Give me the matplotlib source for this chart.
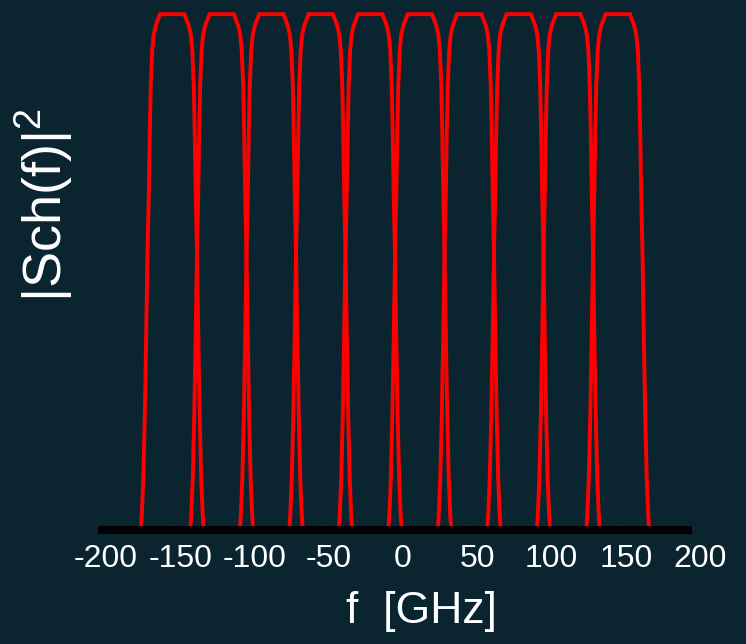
import numpy as np
import matplotlib
matplotlib.use("Agg")
from matplotlib import pyplot as plt
from matplotlib import transforms

plt.rcParams['font.family'] = ['Liberation Sans', 'DejaVu Sans']
plt.rcParams['mathtext.fontset'] = 'custom'
plt.rcParams['mathtext.rm'] = 'Liberation Sans'
plt.rcParams['mathtext.it'] = 'Liberation Sans:italic'

# channel centre frequencies [GHz]
centres = [-150.0, -116.7, -83.3, -50.0, -16.7, 16.7, 50.0, 83.3, 116.7, 150.0]

# one channel's spectrum edge (offset from centre in GHz, normalised power)
edge_offset = [0.0, 8.2, 11.1, 12.5, 13.5, 14.5, 15.2, 15.8, 16.7, 17.6, 18.5, 19.5, 20.5, 21.2]
edge_power = [1.0, 1.0, 0.978, 0.96, 0.93, 0.86, 0.76, 0.65, 0.53, 0.37, 0.22, 0.10, 0.03, 0.0]

xticks = [-200, -150, -100, -50, 0, 50, 100, 150, 200]

bg = '#0a2530'

fig = plt.figure(figsize=(7.46, 6.44), dpi=100, facecolor=bg)
ax = fig.add_axes([98 / 746, 0.177, 594 / 746, 0.817])
ax.set_facecolor(bg)

off = np.array(edge_offset)
pw = np.array(edge_power)
shape_f = np.concatenate([-off[::-1], off[1:]])
shape_p = np.concatenate([pw[::-1], pw[1:]])

for c in centres:
    ax.plot(c + shape_f, shape_p, color='#ff0000', lw=2.8, solid_joinstyle='miter')

ax.set_xlim(-200, 200)
ax.set_ylim(0, 1.02)

for side in ['top', 'right', 'left']:
    ax.spines[side].set_visible(False)
ax.spines['bottom'].set_color('black')
ax.spines['bottom'].set_linewidth(5.8)
ax.spines['bottom'].set_capstyle('butt')
ax.spines['bottom'].set_zorder(3)

ax.set_yticks([])
ax.set_xticks(xticks)
ax.set_xticklabels([str(t) for t in xticks])
ax.tick_params(axis='x', direction='in', length=4, width=1, color='#1c2b30',
               labelsize=23, pad=10, labelcolor='white')

# labels sit a little to the right of their ticks in the original
shift = transforms.ScaledTranslation(8 / 100, 0, fig.dpi_scale_trans)
for lab in ax.get_xticklabels():
    lab.set_transform(lab.get_transform() + shift)

fig.text(44 / 746, (644 - 205) / 644, r'$\mathrm{|Sch(f)|}^{2}$', rotation=90,
         ha='center', va='center', color='white', fontsize=39)
fig.text(421 / 746, (644 - 612) / 644, 'f  [GHz]', ha='center', va='center',
         color='white', fontsize=32)

fig.savefig('out.png', dpi=100, facecolor=bg)
